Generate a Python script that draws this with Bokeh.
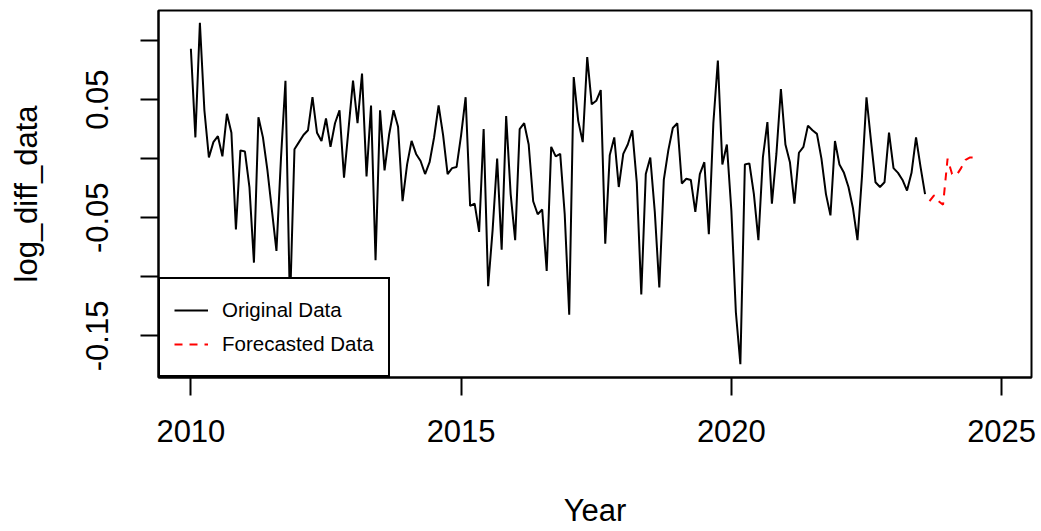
import numpy as np
from bokeh.plotting import figure
from bokeh.models import FixedTicker, Legend, LegendItem, Range1d
from bokeh.embed import file_html
from bokeh.resources import INLINE

# ---- data (monthly, Jan 2010 .. Aug 2023) ----
start_year = 2010.0
original_values = [
    0.093, 0.018, 0.115, 0.041, 0.001, 0.014, 0.019, 0.002, 0.038, 0.022,
    -0.060, 0.007, 0.006, -0.024, -0.088, 0.035, 0.018, -0.010, -0.044, -0.078,
    0.000, 0.066, -0.125, 0.008, 0.014, 0.020, 0.024, 0.052, 0.022, 0.015,
    0.034, 0.010, 0.030, 0.041, -0.016, 0.025, 0.066, 0.030, 0.072, -0.015,
    0.045, -0.086, 0.041, -0.010, 0.020, 0.041, 0.027, -0.036, -0.005, 0.015,
    0.004, -0.002, -0.013, -0.003, 0.018, 0.045, 0.020, -0.013, -0.008, -0.007,
    0.020, 0.052, -0.040, -0.038, -0.062, 0.025, -0.108, -0.060, 0.000, -0.077,
    0.036, -0.030, -0.069, 0.025, 0.030, 0.012, -0.036, -0.047, -0.043, -0.095,
    0.010, 0.002, 0.004, -0.047, -0.132, 0.069, 0.032, 0.014, 0.086, 0.046,
    0.049, 0.058, -0.072, 0.003, 0.018, -0.024, 0.004, 0.012, 0.024, -0.020,
    -0.115, -0.013, 0.001, -0.045, -0.109, -0.018, 0.007, 0.026, 0.030, -0.021,
    -0.017, -0.018, -0.045, -0.013, -0.003, -0.064, 0.030, 0.083, -0.005, 0.012,
    -0.044, -0.130, -0.174, -0.005, -0.004, -0.030, -0.069, 0.001, 0.031, -0.038,
    0.004, 0.059, 0.012, -0.003, -0.038, 0.005, 0.010, 0.028, 0.024, 0.021,
    0.000, -0.030, -0.048, 0.015, -0.005, -0.012, -0.024, -0.042, -0.069, -0.015,
    0.052, 0.015, -0.020, -0.024, -0.020, 0.022, -0.008, -0.012, -0.018, -0.027,
    -0.012, 0.018, -0.007, -0.030,
]
# ---- forecast (Sep 2023 .. Aug 2024) ----
forecast_values = [
    -0.036, -0.031, -0.036, -0.039, 0.000, -0.013, -0.014, -0.008, -0.001, 0.001,
    0.001, 0.001,
]
x_ticks = [2010, 2015, 2020, 2025]
y_ticks = [-0.15, -0.10, -0.05, 0.0, 0.05, 0.10]
y_tick_labels = {-0.15: "-0.15", -0.10: "", -0.05: "-0.05", 0.0: "", 0.05: "0.05", 0.10: ""}
legend_labels = ["Original Data", "Forecasted Data"]

n = len(original_values)
t_orig = [start_year + i / 12 for i in range(n)]
t_fc = [start_year + (n + i) / 12 for i in range(len(forecast_values))]

FONT = "Liberation Sans"

p = figure(width=1041, height=531, output_backend="svg", toolbar_location=None,
           x_range=Range1d(2009.401, 2025.553), y_range=Range1d(-0.1852, 0.1254),
           min_border_left=158, min_border_right=10, min_border_top=10,
           min_border_bottom=154, background_fill_color="white",
           border_fill_color="white")

p.xgrid.visible = False
p.ygrid.visible = False
p.outline_line_color = "black"
p.outline_line_width = 2
p.outline_line_alpha = 1.0

r1 = p.line(t_orig, original_values, line_color="black", line_width=2)
r2 = p.line(t_fc, forecast_values, line_color="red", line_width=2, line_dash="8 7")

for ax in (p.xaxis[0], p.yaxis[0]):
    ax.axis_line_color = "black"
    ax.axis_line_width = 2
    ax.major_tick_line_color = "black"
    ax.major_tick_line_width = 2
    ax.major_tick_out = 18
    ax.major_tick_in = 0
    ax.minor_tick_line_color = None
    ax.major_label_text_font = FONT
    ax.major_label_text_font_size = "31px"
    ax.major_label_text_color = "black"
    ax.axis_label_text_font = FONT
    ax.axis_label_text_font_size = "31px"
    ax.axis_label_text_font_style = "normal"
    ax.axis_label_text_color = "black"

p.xaxis[0].ticker = FixedTicker(ticks=x_ticks)
p.xaxis[0].major_label_standoff = 24
p.xaxis[0].axis_label = "Year"
p.xaxis[0].axis_label_standoff = 48

p.yaxis[0].ticker = FixedTicker(ticks=y_ticks)
p.yaxis[0].major_label_overrides = y_tick_labels
p.yaxis[0].major_label_orientation = "vertical"
p.yaxis[0].major_label_standoff = 32
p.yaxis[0].axis_label = "log_diff_data"
p.yaxis[0].axis_label_standoff = 40

legend = Legend(items=[LegendItem(label=legend_labels[0], renderers=[r1]),
                       LegendItem(label=legend_labels[1], renderers=[r2])],
                location="bottom_left", margin=0, padding=14, spacing=0,
                glyph_width=34, glyph_height=34, label_height=34,
                label_standoff=14, label_text_font=FONT,
                label_text_font_size="20.5px", label_text_color="black",
                border_line_color="black", border_line_width=2,
                border_line_alpha=1.0,
                background_fill_color="white", background_fill_alpha=1.0)
p.add_layout(legend)

open("out.html", "w").write(file_html(p, INLINE))
